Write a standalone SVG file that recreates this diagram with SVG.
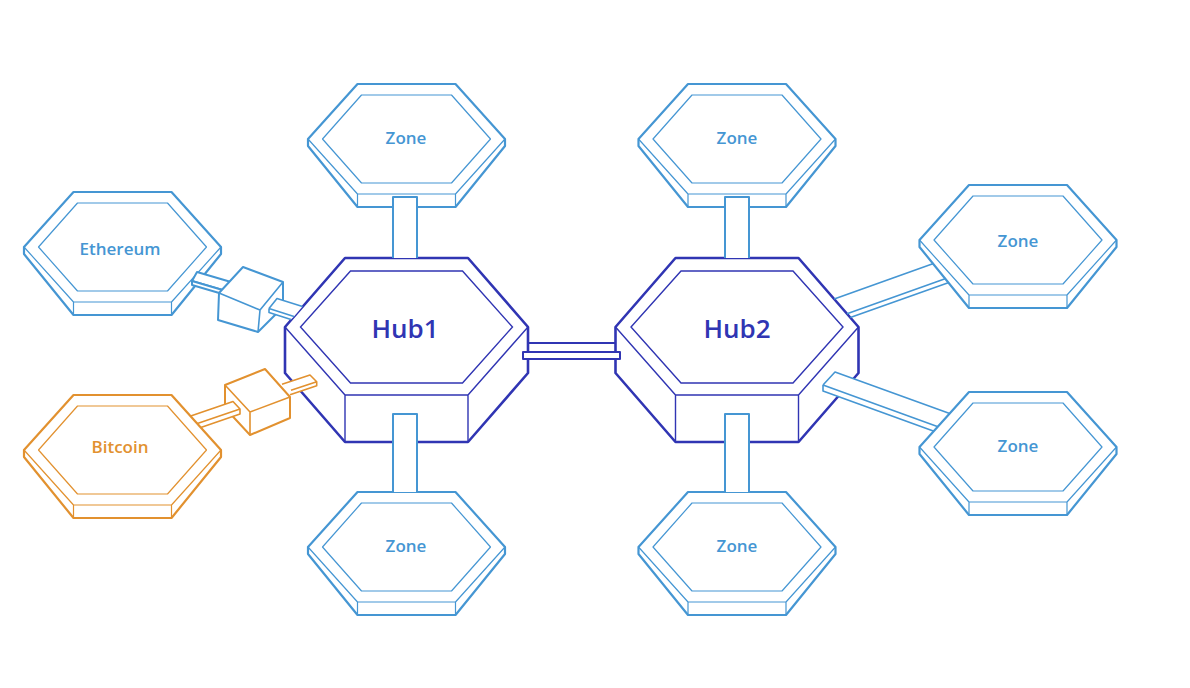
<svg xmlns="http://www.w3.org/2000/svg" xmlns:xlink="http://www.w3.org/1999/xlink" width="1190" height="688" viewBox="0 0 1190 688">
<style>
.zt{font-family:"Open Sans","Noto Sans","Liberation Sans",sans-serif;font-weight:600;font-size:17px;text-anchor:middle}
.ht{font-family:"Open Sans","Noto Sans","Liberation Sans",sans-serif;font-weight:600;font-size:26px;text-anchor:middle;fill:#3035b3}
.blue{color:#4596d3;fill:#4596d3}
.orange{color:#e2912f;fill:#e2912f}
.o{fill:#fff;stroke:currentColor;stroke-width:2.2;stroke-linejoin:round}
.i{fill:none;stroke:currentColor;stroke-width:1.2;stroke-linejoin:round}
.c{fill:#fff;stroke:#4596d3;stroke-width:2;stroke-linejoin:round}
.cl{fill:none;stroke:#4596d3;stroke-width:1.6;stroke-linejoin:round}
.co{fill:#fff;stroke:#e2912f;stroke-width:2;stroke-linejoin:round}
.col{fill:none;stroke:#e2912f;stroke-width:1.6;stroke-linejoin:round}
.hc{fill:#fff;stroke:#3035b3;stroke-width:2;stroke-linejoin:round}
.nf{fill:#fff;stroke:none}
</style>
<defs>
<g id="zone">
<path class="o" d="M-49,-55 H49 L98.5,0 V7 L49,68 H-49 L-98.5,7 V0 Z"/>
<path class="i" d="M-98.5,0 L-49,55 H49 L98.5,0 M-49,55 V68 M49,55 V68"/>
<path class="i" d="M-45,-44 H45 L84,0 L45,44 H-45 L-84,0 Z"/>
</g>
<g id="hub">
<path fill="#fff" stroke="#3035b3" stroke-width="2.6" stroke-linejoin="round" d="M-61.5,-69 H61.5 L121.5,0 V46 L61.5,115 H-61.5 L-121.5,46 V0 Z"/>
<path fill="none" stroke="#3035b3" stroke-width="1.4" d="M-121.5,0 L-61.5,68 H61.5 L121.5,0 M-61.5,68 V115 M61.5,68 V115"/>
<path fill="none" stroke="#3035b3" stroke-width="1.4" d="M-56,-56 H56 L106,0 L56,56 H-56 L-106,0 Z"/>
</g>
</defs>
<rect width="1190" height="688" fill="#fff"/>

<g id="hub1"><use xlink:href="#hub" transform="translate(406.5,327)"/><text class="ht" x="405" y="338">Hub1</text></g>
<g id="hub2"><use xlink:href="#hub" transform="translate(737,327)"/><text class="ht" x="737" y="338">Hub2</text></g>

<g id="zone-top-left" class="blue"><use xlink:href="#zone" transform="translate(406.5,139)"/><text class="zt" x="406" y="143.5">Zone</text></g>
<g id="zone-top-right" class="blue"><use xlink:href="#zone" transform="translate(737,139)"/><text class="zt" x="737" y="143.5">Zone</text></g>
<g id="zone-bottom-left" class="blue"><use xlink:href="#zone" transform="translate(406.5,547)"/><text class="zt" x="406" y="551.5">Zone</text></g>
<g id="zone-bottom-right" class="blue"><use xlink:href="#zone" transform="translate(737,547)"/><text class="zt" x="737" y="551.5">Zone</text></g>
<g id="zone-right-upper" class="blue"><use xlink:href="#zone" transform="translate(1018,240)"/><text class="zt" x="1018" y="246.5">Zone</text></g>
<g id="zone-right-lower" class="blue"><use xlink:href="#zone" transform="translate(1018,447)"/><text class="zt" x="1018" y="451.5">Zone</text></g>
<g id="ethereum" class="blue"><use xlink:href="#zone" transform="translate(122.5,247)"/><text class="zt" x="120" y="255">Ethereum</text></g>
<g id="bitcoin" class="orange"><use xlink:href="#zone" transform="translate(122.5,450)"/><text class="zt" x="120" y="453">Bitcoin</text></g>

<g id="connectors">
<!-- vertical zone-hub links -->
<path class="c" d="M393,258 V197 H417 V258"/>
<path class="c" d="M393,492 V414 H417 V492"/>
<path class="c" d="M725,258 V197 H749 V258"/>
<path class="c" d="M725,492 V414 H749 V492"/>
<!-- hub1 - hub2 bridge -->
<path fill="none" stroke="#3035b3" stroke-width="2" d="M528,343 H615.5"/>
<rect class="hc" x="523" y="352" width="97" height="7"/>
<!-- hub2 to right upper zone (behind) -->
<path class="cl" d="M834.2,299 L933.5,263.5 M847,313.8 L945.8,278.5 M850.3,317.6 L948.9,282.4"/>
<!-- hub2 to right lower zone (in front of hub) -->
<polygon class="nf" points="835,372 900,395.6 900,418.9 823,391 823,385"/>
<path class="cl" d="M823,385 L835,372 L949.7,413.6 M823,385 L938,426.7 M823,385 V391 L934,431.3"/>
<!-- Ethereum adapter -->
<polygon class="c" points="197,272 231,282 226,291 192,281"/>
<polygon class="c" points="192,281 226,291 226,295 192,285"/>
<polygon class="c" points="219,293 243,267 283,282 283,307 258,332 218,320"/>
<path class="cl" d="M219,293 L260,310 L283,282 M260,310 L258,332"/>
<polygon class="nf" points="277,298.5 302.5,306.5 294,316.5 291,319.5 269,312.5 269,308.5"/>
<path class="cl" d="M269,308.5 L277,298.5 L302.5,306.5 M269,308.5 L294,316.5 M269,308.5 V312.5 L291,319.5"/>
<!-- Bitcoin adapter -->
<polygon class="co" points="225,385 265,369 290,397 290,418 250,435 225,408"/>
<path class="col" d="M225,385 L250,412 L290,397 M250,412 V435"/>
<polygon class="nf" points="206,410.7 233,401.5 240,409 240,414 206,425.6"/>
<path class="col" d="M190.7,415.9 L233,401.5 L240,409 V414 L200.8,427.4 M197.4,423.5 L240,409"/>
<polygon class="nf" points="282,384.3 310,375 316.7,381.7 316.7,385.7 290,394.7 290,389"/>
<path class="col" d="M282,384.3 L310,375 L316.7,381.7 V385.7 L290,394.7 M316.7,381.7 L291,390.3"/>
</g>
</svg>
